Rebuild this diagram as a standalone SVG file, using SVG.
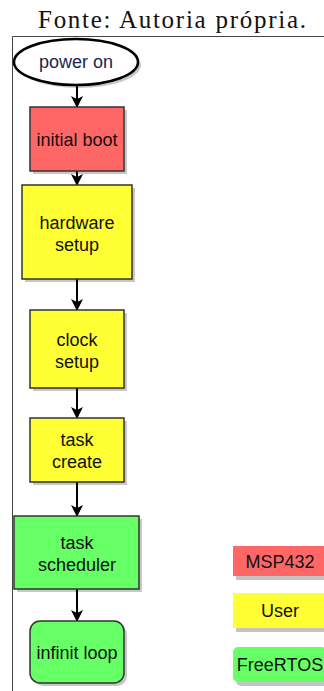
<svg xmlns="http://www.w3.org/2000/svg" width="324" height="691" viewBox="0 0 324 691">
<style>
.t{font-family:"Liberation Sans",Arial,sans-serif;font-size:18px;fill:#111;text-anchor:middle}
.n{stroke:#333;stroke-width:1.5}
.sh{fill:#000;opacity:0.22}
.c{stroke:#000;stroke-width:2;fill:none;marker-end:url(#ah)}
</style>
<defs>
<marker id="ah" viewBox="0 0 12 12" refX="11" refY="6" markerWidth="12" markerHeight="12" markerUnits="userSpaceOnUse" orient="auto">
<path d="M0,0 L12,6 L0,12 L3,6 Z" fill="#000"/>
</marker>
</defs>
<rect width="324" height="691" fill="#fff"/>
<text x="172" y="28" font-family="Liberation Serif,serif" font-size="25" text-anchor="middle" textLength="268" lengthAdjust="spacing" fill="#111">Fonte: Autoria própria.</text>
<path d="M12.5,691 V36.5 H324" fill="none" stroke="#444" stroke-width="1"/>
<g id="connectors">
<line class="c" x1="77" y1="86" x2="77" y2="107"/>
<line class="c" x1="77" y1="171" x2="77" y2="185"/>
<line class="c" x1="77" y1="279" x2="77" y2="310"/>
<line class="c" x1="77" y1="388" x2="77" y2="418"/>
<line class="c" x1="77" y1="482" x2="77" y2="516"/>
<line class="c" x1="77" y1="589" x2="77" y2="621"/>
</g>
<g id="power-on">
<ellipse class="sh" cx="79" cy="65" rx="62" ry="23"/>
<ellipse cx="76" cy="62" rx="62" ry="23" fill="#fff" stroke="#000" stroke-width="2.5"/>
<text class="t" x="76" y="68" style="fill:#1a2550">power on</text>
</g>
<g id="initial-boot">
<rect class="sh" x="33" y="110" width="94" height="64"/>
<rect class="n" x="30" y="107" width="94" height="64" fill="#ff6666"/>
<text class="t" x="77" y="146">initial boot</text>
</g>
<g id="hardware-setup">
<rect class="sh" x="25" y="188" width="110" height="94"/>
<rect class="n" x="22" y="185" width="110" height="94" fill="#ffff33"/>
<text class="t" x="77" y="229">hardware</text>
<text class="t" x="77" y="251">setup</text>
</g>
<g id="clock-setup">
<rect class="sh" x="33" y="313" width="94" height="78"/>
<rect class="n" x="30" y="310" width="94" height="78" fill="#ffff33"/>
<text class="t" x="77" y="346">clock</text>
<text class="t" x="77" y="368">setup</text>
</g>
<g id="task-create">
<rect class="sh" x="33" y="421" width="94" height="64"/>
<rect class="n" x="30" y="418" width="94" height="64" fill="#ffff33"/>
<text class="t" x="77" y="446">task</text>
<text class="t" x="77" y="468">create</text>
</g>
<g id="task-scheduler">
<rect class="sh" x="17" y="519" width="125" height="73"/>
<rect class="n" x="14" y="516" width="125" height="73" fill="#66ff66"/>
<text class="t" x="77" y="549">task</text>
<text class="t" x="77" y="571">scheduler</text>
</g>
<g id="infinit-loop">
<rect class="sh" x="33" y="624" width="94" height="62" rx="10"/>
<rect class="n" x="30" y="621" width="94" height="62" rx="10" fill="#66ff66"/>
<text class="t" x="77" y="659">infinit loop</text>
</g>
<g id="legend-msp432">
<rect x="236" y="550" width="94" height="30" fill="#c4c4c4"/>
<rect x="233" y="546" width="94" height="30" fill="#ff6666"/>
<text class="t" x="280" y="568">MSP432</text>
</g>
<g id="legend-user">
<rect x="236" y="597" width="94" height="35" fill="#c4c4c4"/>
<rect x="233" y="593" width="94" height="35" fill="#ffff33"/>
<text class="t" x="280" y="617">User</text>
</g>
<g id="legend-freertos">
<rect x="236" y="651" width="94" height="35" rx="5" fill="#c4c4c4"/>
<rect x="233" y="647" width="94" height="35" rx="5" fill="#66ff66"/>
<text class="t" x="280" y="671">FreeRTOS</text>
</g>
</svg>
